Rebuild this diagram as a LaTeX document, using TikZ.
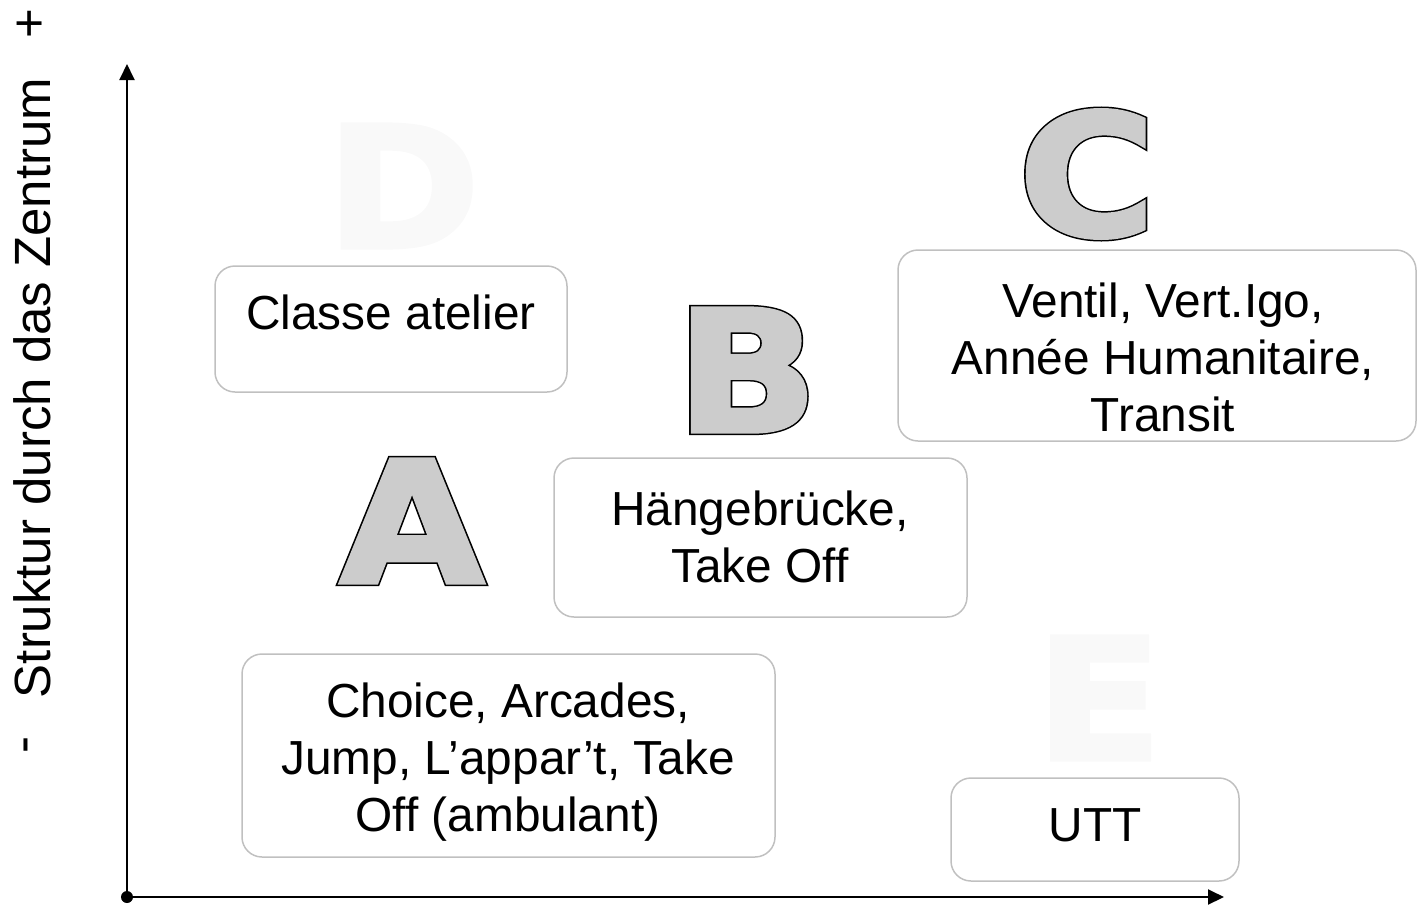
\documentclass[tikz,border=0pt]{standalone}
\usepackage{fontspec}
\setmainfont{Liberation Sans}
\newfontfamily\letterfont{DejaVu Sans}
\usepackage{tikz}
\usetikzlibrary{arrows.meta,fit}
\definecolor{boxline}{HTML}{C0C0C0}
\definecolor{lettergray}{HTML}{CCCCCC}
\definecolor{ghost}{HTML}{F9F9F9}
\tikzset{
  cardbox/.style={
    draw=boxline, line width=0.3mm,
    rounded corners=4mm,
    inner sep=0pt
  },
  cardtext/.style={
    inner sep=0pt, align=center,
    font=\fontsize{27.2}{32.4}\selectfont
  },
  bigletter/.style={
    inner sep=0pt, xscale=1.1,
    font=\letterfont\bfseries\fontsize{96}{96}\selectfont
  },
  axisline/.style={
    line width=0.4mm,
    -{Triangle[length=3.2mm,width=3mm]}
  },
  axislabel/.style={
    inner sep=0pt, rotate=90,
    font=\fontsize{29}{34}\selectfont
  }
}
% heavy grey letter with a thin black outline
\newcommand{\OutlineLetter}[1]{%
  {\color{lettergray}%
   \special{pdf:literal direct 0 G 4.2 w 0 j 2 Tr}\rlap{#1}%
   \special{pdf:literal direct 0.8 G 2.5 w}#1%
   \special{pdf:literal direct 0 Tr 0.4 w}}%
}
% heavy faint letter, no outline
\newcommand{\GhostLetter}[1]{%
  {\color{ghost}%
   \special{pdf:literal direct 2.5 w 0 j 2 Tr}#1%
   \special{pdf:literal direct 0 Tr 0.4 w}}%
}

\begin{document}
\begin{tikzpicture}[x=0.2mm, y=-0.2mm]
  \useasboundingbox (0,0) rectangle (1417,904);

  % axes
  \coordinate (origin) at (127,897);
  \coordinate (ytop) at (127,64);
  \coordinate (xend) at (1224,897);
  \draw[axisline] (origin) -- (ytop);
  \draw[axisline] (origin) -- (xend);
  \fill (origin) circle (6);

  \node[axislabel] (yminus) at (32,745) {-};
  \node[axislabel] (ytitle) at (32,388) {Struktur durch das Zentrum};
  \node[axislabel] (yplus) at (32,24) {+};

  % boxes
  \node[cardbox, fit={(215,266) (567,392)}] (atelier) {};
  \node[cardbox, fit={(554,458) (967,617)}] (haenge) {};
  \node[cardbox, fit={(898,250) (1416,441)}] (ventil) {};
  \node[cardbox, fit={(242,654) (775,857)}] (choice) {};
  \node[cardbox, fit={(951,778) (1239,881)}] (utt) {};

  \node[cardtext] (atelierText) at (391,312) {Classe atelier};
  \node[cardtext] (haengeText) at (760,537) {H\"angebr\"ucke,\\Take Off};
  \node[cardtext] (ventilText) at (1163,357) {Ventil, Vert.Igo,\\Ann\'ee Humanitaire,\\Transit};
  \node[cardtext] (choiceText) at (508,762) {Choice, Arcades,\\Jump, L’appar’t, Take\\Off (ambulant)};
  \node[cardtext] (uttText) at (1095,825) {UTT};

  % group letters
  \node[bigletter] (letD) at (403,186) {\GhostLetter{D}};
  \node[bigletter] (letE) at (1099,698) {\GhostLetter{E}};
  \node[bigletter] (letA) at (412,521) {\OutlineLetter{A}};
  \node[bigletter] (letB) at (747,370) {\OutlineLetter{B}};
  \node[bigletter] (letC) at (1087,174) {\OutlineLetter{C}};
\end{tikzpicture}
\end{document}
